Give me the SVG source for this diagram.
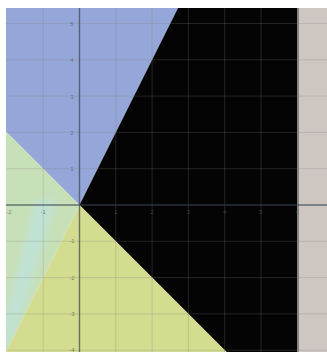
<svg xmlns="http://www.w3.org/2000/svg" width="327" height="352" viewBox="0 0 327 352">
<defs>
<style>
.grid line{stroke:#808080;stroke-opacity:0.25;stroke-width:1}
.axis{stroke:#3c4450;stroke-opacity:0.7;stroke-width:1.4}
.lbl{font-family:"Liberation Sans",Arial,sans-serif;font-size:6px;fill:#555;fill-opacity:0.7}
</style>
<filter id="soft" x="-50%" y="-50%" width="200%" height="200%">
<feGaussianBlur stdDeviation="4"/>
</filter>
<clipPath id="greenclip">
<polygon points="6,131.5 79.5,205 6,352"/>
</clipPath>
</defs>
<rect x="0" y="0" width="327" height="352" fill="#ffffff"/>
<g id="regions">
<polygon id="blue" points="6,8 178,8 79.5,205 6,131.5" fill="#95a6d9"/>
<polygon id="black" points="178,8 297,8 297,352 226.5,352 79.5,205" fill="#040404"/>
<polygon id="yellow" points="79.5,205 226.5,352 6,352" fill="#d4dc8f"/>
<polygon id="green" points="6,131.5 79.5,205 6,352" fill="#c8e0b8"/>
<g clip-path="url(#greenclip)">
<polygon id="greenband" points="36,200 56,200 26,300 12,340 4,350 4,320 10,300" fill="#c0e2d6" filter="url(#soft)"/>
</g>
<rect id="beige" x="297" y="8" width="30" height="344" fill="#cec6c0"/>
<rect x="297" y="8" width="2" height="344" fill="#8a8480"/>
</g>
<g class="grid">
<line x1="43.2" y1="8" x2="43.2" y2="352"/>
<line x1="115.8" y1="8" x2="115.8" y2="352"/>
<line x1="152.1" y1="8" x2="152.1" y2="352"/>
<line x1="188.4" y1="8" x2="188.4" y2="352"/>
<line x1="224.7" y1="8" x2="224.7" y2="352"/>
<line x1="261" y1="8" x2="261" y2="352"/>
<line x1="6" y1="23.5" x2="327" y2="23.5"/>
<line x1="6" y1="59.8" x2="327" y2="59.8"/>
<line x1="6" y1="96.1" x2="327" y2="96.1"/>
<line x1="6" y1="132.4" x2="327" y2="132.4"/>
<line x1="6" y1="168.7" x2="327" y2="168.7"/>
<line x1="6" y1="241.3" x2="327" y2="241.3"/>
<line x1="6" y1="277.6" x2="327" y2="277.6"/>
<line x1="6" y1="313.9" x2="327" y2="313.9"/>
<line x1="6" y1="350.2" x2="327" y2="350.2"/>
</g>
<g id="axes">
<line class="axis" x1="79.5" y1="8" x2="79.5" y2="352"/>
<line class="axis" x1="6" y1="205" x2="327" y2="205"/>
</g>
<g id="labels">
<text class="lbl" x="72" y="26" text-anchor="middle">5</text>
<text class="lbl" x="72" y="62" text-anchor="middle">4</text>
<text class="lbl" x="72" y="99" text-anchor="middle">3</text>
<text class="lbl" x="72" y="135" text-anchor="middle">2</text>
<text class="lbl" x="72" y="171" text-anchor="middle">1</text>
<text class="lbl" x="72" y="243" text-anchor="middle">-1</text>
<text class="lbl" x="72" y="280" text-anchor="middle">-2</text>
<text class="lbl" x="72" y="316" text-anchor="middle">-3</text>
<text class="lbl" x="72" y="352" text-anchor="middle">-4</text>
<text class="lbl" x="9" y="214" text-anchor="middle">-2</text>
<text class="lbl" x="43.2" y="214" text-anchor="middle">-1</text>
<text class="lbl" x="115.8" y="214" text-anchor="middle">1</text>
<text class="lbl" x="152.1" y="214" text-anchor="middle">2</text>
<text class="lbl" x="188.4" y="214" text-anchor="middle">3</text>
<text class="lbl" x="224.7" y="214" text-anchor="middle">4</text>
<text class="lbl" x="261" y="214" text-anchor="middle">5</text>
<text class="lbl" x="297.3" y="214" text-anchor="middle">6</text>
</g>
</svg>
